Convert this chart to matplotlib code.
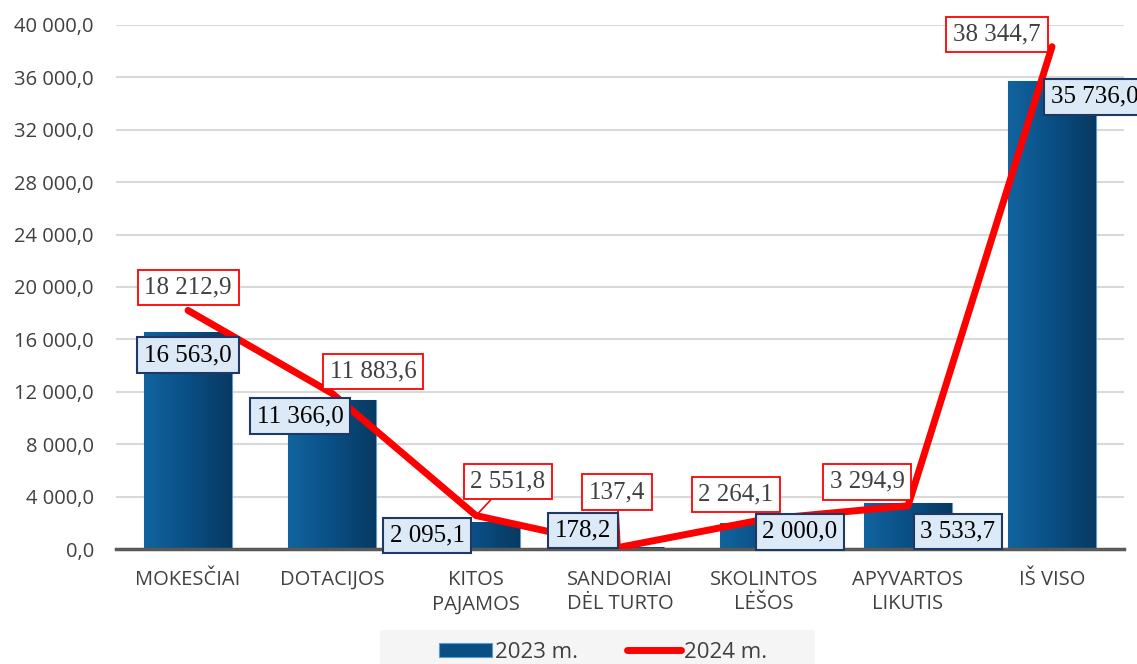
import numpy as np
import matplotlib.pyplot as plt
from matplotlib.patches import Patch, Rectangle
from matplotlib.lines import Line2D
from matplotlib.colors import LinearSegmentedColormap
from matplotlib.ticker import FuncFormatter

categories = ['MOKESČIAI', 'DOTACIJOS', 'KITOS\nPAJAMOS', 'SANDORIAI\nDĖL TURTO',
              'SKOLINTOS\nLĖŠOS', 'APYVARTOS\nLIKUTIS', 'IŠ VISO']
values_2023 = [16563.0, 11366.0, 2095.1, 178.2, 2000.0, 3533.7, 35736.0]
values_2024 = [18212.9, 11883.6, 2551.8, 137.4, 2264.1, 3294.9, 38344.7]
series_names = ['2023 m.', '2024 m.']

# label offsets in pixels (dx, dy) relative to the data point
off_2023 = [(0, -23), (-32, -16), (-49, -14), (-37, 16), (36, -9), (50, -29), (43, -16)]
off_2024 = [(0, 23), (41, 22), (32, 34), (-3, 55), (-28, 25), (-41, 24), (-55, 12)]


def fmt(v):
    s = f'{v:,.1f}'
    return s.replace(',', ' ').replace('.', ',')


plt.rcParams['font.family'] = ['Open Sans', 'DejaVu Sans']

fig = plt.figure(figsize=(11.37, 6.64), dpi=100)
ax = fig.add_axes([116 / 1137, 1 - 549 / 664, 1008 / 1137, 524 / 664])

x = np.arange(len(categories))
bars = ax.bar(x, values_2023, width=0.61, color='#0b5189', edgecolor='#5b9bd5',
              linewidth=0.8, zorder=2)

cmap = LinearSegmentedColormap.from_list('bar', ['#11649f', '#0a4f84', '#073a62'])
grad = np.linspace(0, 1, 256).reshape(1, -1)
for b in bars:
    x0, y0 = b.get_x(), b.get_y()
    im = ax.imshow(grad, cmap=cmap, aspect='auto', zorder=2.1,
                   extent=(x0, x0 + b.get_width(), y0, y0 + b.get_height()))
    im.set_clip_path(b)

ax.plot(x, values_2024, color='#ff0000', linewidth=5, solid_capstyle='round', zorder=3)

ax.set_xlim(-0.5, len(categories) - 0.5)
ax.set_ylim(0, 40000)
ax.set_yticks(np.arange(0, 40001, 4000))
ax.yaxis.set_major_formatter(FuncFormatter(lambda v, p: fmt(v)))
ax.grid(axis='y', color='#d9d9d9', linewidth=1.5, zorder=0)
ax.set_axisbelow(True)
for s in ['top', 'right', 'left']:
    ax.spines[s].set_visible(False)
ax.spines['bottom'].set_color('#595959')
ax.spines['bottom'].set_linewidth(2.5)
ax.spines['bottom'].set_zorder(2.5)
ax.tick_params(axis='both', length=0, labelsize=14.5, colors='#404040')
ax.tick_params(axis='y', pad=16)
ax.tick_params(axis='x', pad=15)
ax.set_xticks(x)
ax.set_xticklabels(categories, linespacing=1.3)

serif = ['Liberation Serif', 'DejaVu Serif']
for i in range(len(categories)):
    ax.annotate(fmt(values_2023[i]), (x[i], values_2023[i]), xytext=off_2023[i],
                textcoords='offset pixels', ha='center', va='center', fontsize=18,
                family=serif, color='#000000', zorder=5,
                bbox=dict(boxstyle='square,pad=0.27', fc='#dce9f6', ec='#1f3864', lw=1.5))
    arrow = None
    if i in (2, 3):
        arrow = dict(arrowstyle='-', color='#ff0000', lw=1.2, shrinkA=0, shrinkB=0)
    ax.annotate(fmt(values_2024[i]), (x[i], values_2024[i]), xytext=off_2024[i],
                textcoords='offset pixels', ha='center', va='center', fontsize=18,
                family=serif, color='#404040', zorder=4, arrowprops=arrow,
                bbox=dict(boxstyle='square,pad=0.27', fc='white', ec='#ff0000', lw=1.3))

# legend background strip
fig.patches.append(Rectangle((380 / 1137, 0), 435 / 1137, 34 / 664,
                             transform=fig.transFigure, facecolor='#f5f5f5',
                             edgecolor='none', zorder=0))
handles = [Patch(facecolor='#0a4f84', edgecolor='#5b9bd5', linewidth=0.8),
           Line2D([0], [0], color='#ff0000', linewidth=5, solid_capstyle='round')]
fig.legend(handles, series_names, loc='center', ncol=2,
           bbox_to_anchor=(603 / 1137, 12 / 664), frameon=False, fontsize=16,
           handlelength=2.4, handleheight=0.6, columnspacing=2.2,
           borderpad=0.0, handletextpad=0.15, labelcolor='#404040')

fig.savefig('out.png', dpi=100)
